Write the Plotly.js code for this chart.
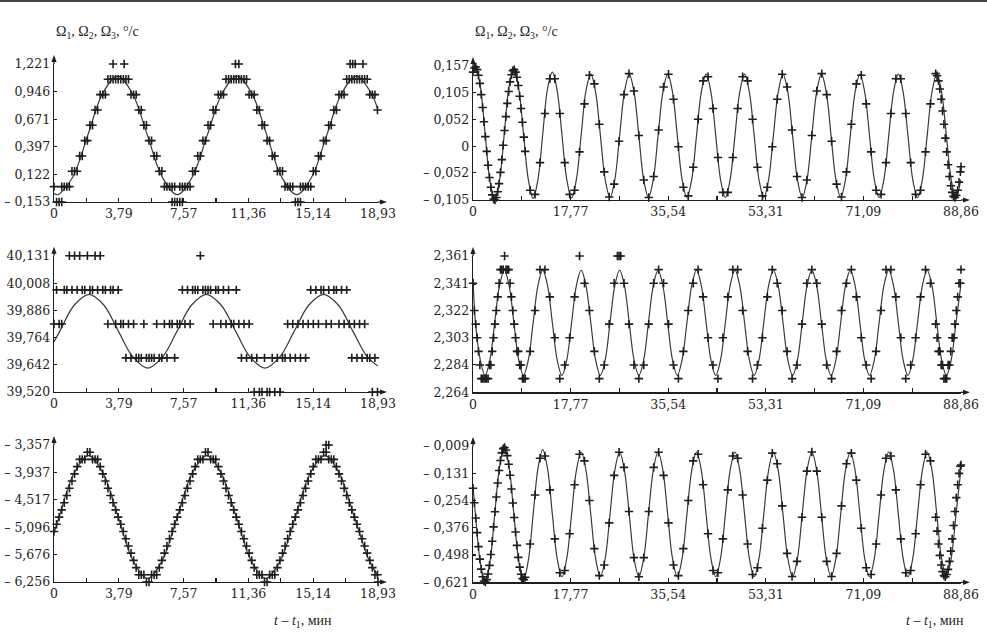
<!DOCTYPE html>
<html><head><meta charset="utf-8">
<script src="https://cdn.plot.ly/plotly-3.0.1.min.js"></script>
<style>html,body{margin:0;padding:0;background:#fff;}#chart{width:987px;height:638px;}</style>
</head><body><div id="chart"></div>
<script>
// ---------- left column: common sample times (min) ----------
const tLeft = [0,0.15,0.3,0.45,0.6,0.75,0.9,1.05,1.2,1.35,
1.5,1.65,1.8,1.95,2.1,2.25,2.4,2.55,2.7,2.85,
3,3.15,3.3,3.45,3.6,3.75,3.9,4.05,4.2,4.35,
4.5,4.65,4.8,4.95,5.1,5.25,5.4,5.55,5.7,5.85,
6,6.15,6.3,6.45,6.6,6.75,6.9,7.05,7.2,7.35,
7.5,7.65,7.8,7.95,8.1,8.25,8.4,8.55,8.7,8.85,
9,9.15,9.3,9.45,9.6,9.75,9.9,10.05,10.2,10.35,
10.5,10.65,10.8,10.95,11.1,11.25,11.4,11.55,11.7,11.85,
12,12.15,12.3,12.45,12.6,12.75,12.9,13.05,13.2,13.35,
13.5,13.65,13.8,13.95,14.1,14.25,14.4,14.55,14.7,14.85,
15,15.15,15.3,15.45,15.6,15.75,15.9,16.05,16.2,16.35,
16.5,16.65,16.8,16.95,17.1,17.25,17.4,17.55,17.7,17.85,
18,18.15,18.3,18.45,18.6,18.75,18.9];

// Omega1 (left, top) measured points
const om1L = [0,-0.153,-0.153,0,0,0,0,0.153,0.153,0.153,
0.305,0.305,0.458,0.458,0.611,0.611,0.763,0.763,0.916,0.916,
0.916,1.069,1.069,1.069,1.069,1.069,1.069,1.069,1.069,1.069,
0.916,0.916,0.916,0.763,0.763,0.611,0.611,0.458,0.458,0.305,
0.305,0.153,0.153,0,0,0,0,0,-0.153,0,
0,0,0,0,0.153,0.153,0.305,0.305,0.458,0.458,
0.611,0.611,0.763,0.763,0.916,0.916,0.916,1.069,1.069,1.069,
1.069,1.069,1.069,1.069,1.069,1.069,0.916,0.916,0.916,0.763,
0.763,0.611,0.611,0.458,0.458,0.305,0.305,0.153,0.153,0.153,
0,0,0,0,-0.153,-0.153,0,0,0,0,
0,0.153,0.153,0.305,0.305,0.458,0.458,0.611,0.611,0.763,
0.763,0.916,0.916,0.916,1.069,1.069,1.069,1.069,1.069,1.069,
1.069,1.069,1.069,0.916,0.916,0.916,0.763];
const om1LOutT = [0.45,3.45,4.1,6.9,7.05,7.35,7.5,10.6,10.8,14.4,17.3,17.45,17.6,18.05];
const om1LOutV = [-0.153,1.221,1.221,-0.153,-0.153,-0.153,-0.153,1.221,1.221,-0.153,1.221,1.221,1.221,1.221];
const fitTL_t = [0,0.22,1.09,1.97,2.84,3.71,4.58,5.46,6.33,7.2,8.07,8.95,9.82,10.69,11.56,12.44,13.31,14.18,15.05,15.93,16.8,17.67,18.54,18.93];
const fitTL_v = [-0.069,-0.08,0.093,0.51,0.927,1.1,0.927,0.51,0.093,-0.08,0.093,0.51,0.927,1.1,0.927,0.51,0.093,-0.08,0.093,0.51,0.927,1.1,0.927,0.76];

// Omega2 (left, middle)
const om2L = [39.825,39.978,39.825,39.825,39.978,39.978,40.131,39.978,40.131,39.978,
40.131,39.978,39.978,40.131,39.978,39.978,40.131,39.978,40.131,39.978,
39.978,39.825,39.978,39.978,39.825,39.978,39.825,39.825,39.673,39.825,
39.673,39.825,39.673,39.673,39.673,39.825,39.673,39.673,39.673,39.673,
39.825,39.673,39.673,39.825,39.673,39.825,39.825,39.673,39.825,39.825,
39.978,39.825,39.978,39.825,39.978,39.978,39.978,40.131,39.978,39.978,
39.978,39.978,39.825,39.978,39.978,39.825,39.978,39.825,39.978,39.825,
39.825,39.978,39.825,39.673,39.825,39.673,39.825,39.673,39.52,39.673,
39.52,39.52,39.673,39.52,39.52,39.673,39.52,39.673,39.52,39.673,
39.673,39.825,39.673,39.825,39.673,39.825,39.673,39.825,39.673,39.825,
39.978,39.825,39.978,39.825,39.978,39.978,39.825,39.978,39.825,39.978,
39.978,39.825,39.978,39.825,39.978,39.825,39.673,39.825,39.673,39.825,
39.673,39.825,39.673,39.673,39.52,39.673,39.52];
const fitML_t = [0,0.34,1.19,2.05,2.91,3.76,4.62,5.48,6.33,7.19,8.04,8.9,9.76,10.61,11.47,12.33,13.18,14.04,14.89,15.75,16.61,17.46,18.32,18.93];
const fitML_v = [39.745,39.793,39.91,39.958,39.91,39.793,39.676,39.627,39.676,39.793,39.91,39.958,39.91,39.793,39.676,39.627,39.676,39.793,39.91,39.958,39.91,39.793,39.676,39.636];

// Omega3 (left, bottom)
const om3L = [-5.188,-5.035,-4.883,-4.730,-4.578,-4.425,-4.272,-4.120,-3.967,-3.815,
-3.662,-3.662,-3.662,-3.510,-3.510,-3.662,-3.662,-3.662,-3.815,-3.967,
-4.120,-4.272,-4.425,-4.578,-4.730,-4.883,-5.035,-5.188,-5.341,-5.493,
-5.646,-5.798,-5.951,-6.103,-6.103,-6.103,-6.256,-6.256,-6.103,-6.103,
-6.103,-5.951,-5.798,-5.646,-5.493,-5.341,-5.188,-5.035,-4.883,-4.730,
-4.578,-4.425,-4.272,-4.120,-3.967,-3.815,-3.662,-3.662,-3.662,-3.510,
-3.510,-3.662,-3.662,-3.662,-3.815,-3.967,-4.120,-4.272,-4.425,-4.578,
-4.730,-4.883,-5.035,-5.188,-5.341,-5.493,-5.646,-5.798,-5.951,-6.103,
-6.103,-6.103,-6.256,-6.256,-6.103,-6.103,-6.103,-5.951,-5.798,-5.646,
-5.493,-5.341,-5.188,-5.035,-4.883,-4.730,-4.578,-4.425,-4.272,-4.120,
-3.967,-3.815,-3.662,-3.662,-3.662,-3.510,-3.510,-3.662,-3.662,-3.662,
-3.815,-3.967,-4.120,-4.272,-4.425,-4.578,-4.730,-4.883,-5.035,-5.188,
-5.341,-5.493,-5.646,-5.798,-5.951,-6.103,-6.103];
const om3LOutT = [15.9,16.05,18.93];
const om3LOutV = [-3.357,-3.357,-6.256];
const fitBL_t = [0,0.3,1.16,2.02,2.88,3.75,4.61,5.47,6.33,7.2,8.06,8.92,9.78,10.65,11.51,12.37,13.23,14.1,14.96,15.82,16.68,17.55,18.41,18.93];
const fitBL_v = [-5.225,-4.88,-3.961,-3.58,-3.961,-4.88,-5.799,-6.18,-5.799,-4.88,-3.961,-3.58,-3.961,-4.88,-5.799,-6.18,-5.799,-4.88,-3.961,-3.58,-3.961,-4.88,-5.799,-6.12];

// ---------- right column: common sample times (min) ----------
const tRight = [0,0.25,0.5,0.75,1,1.25,1.5,1.75,2,2.25,2.5,2.75,3,3.25,3.5,3.75,4,4.25,4.5,4.75,
5,5.25,5.5,5.75,6,6.25,6.5,6.75,7,7.25,7.5,7.75,8,8.25,8.5,8.75,9,9.25,9.5,
10.4,11.3,12.2,13.1,14,14.9,15.8,16.7,17.6,18.5,19.4,20.3,21.2,22.1,23,23.9,24.8,25.7,26.6,27.5,
28.4,29.3,30.2,31.1,32,32.9,33.8,34.7,35.6,36.5,37.4,38.3,39.2,40.1,41,41.9,42.8,43.7,44.6,45.5,
46.4,47.3,48.2,49.1,50,50.9,51.8,52.7,53.6,54.5,55.4,56.3,57.2,58.1,59,59.9,60.8,61.7,62.6,63.5,
64.4,65.3,66.2,67.1,68,68.9,69.8,70.7,71.6,72.5,73.4,74.3,75.2,76.1,77,77.9,78.8,79.7,80.6,81.5,
82.4,83.3,
84.25,84.5,84.75,85,85.25,85.5,85.75,86,86.25,86.5,86.75,87,87.25,87.5,87.75,88,88.25,88.5,88.75,88.86];

const om1R = [0.145,0.153,0.155,0.150,0.139,0.123,0.101,0.076,0.048,0.019,
-0.010,-0.037,-0.061,-0.080,-0.095,-0.103,-0.105,-0.100,-0.089,-0.073,
-0.051,-0.026,0.002,0.031,0.058,0.084,0.107,0.126,0.140,0.148,
0.150,0.145,0.135,0.119,0.098,0.074,0.047,0.018,-0.010,
-0.086,-0.094,-0.032,0.064,0.132,0.132,0.064,-0.032,-0.094,-0.086,
-0.011,0.083,0.139,0.122,0.043,-0.050,-0.099,-0.074,0.010,0.101,
0.142,0.108,0.021,-0.066,-0.100,-0.059,0.032,0.116,0.141,0.092,
-0.001,-0.080,-0.097,-0.041,0.053,0.128,0.136,0.074,-0.022,-0.090,
-0.090,-0.022,0.074,0.136,0.128,0.053,-0.041,-0.097,-0.080,-0.001,
0.092,0.141,0.116,0.032,-0.059,-0.100,-0.066,0.021,0.108,0.142,
0.101,0.010,-0.074,-0.099,-0.050,0.043,0.122,0.139,0.083,-0.011,
-0.086,-0.094,-0.032,0.064,0.132,0.132,0.064,-0.032,-0.094,-0.086,-0.011,0.083,
0.142,0.138,0.128,0.112,0.092,0.069,0.043,0.016,-0.011,-0.036,
-0.059,-0.077,-0.090,-0.098,-0.100,-0.096,-0.086,-0.070,-0.050,-0.040];

const om2R = [2.3416,2.3222,2.3125,2.3028,2.2931,2.2834,2.2737,2.2737,2.2737,2.2737,
2.2737,2.2737,2.2834,2.2834,2.2931,2.3028,2.3125,2.3222,2.3319,2.3416,
2.3513,2.3513,2.3513,2.361,2.3513,2.3513,2.3513,2.3416,2.3319,2.3222,
2.3125,2.3028,2.2931,2.2931,2.2834,2.2834,2.2737,2.2737,2.2737,
2.2931,2.3222,2.3513,2.3513,2.3319,2.3028,2.2737,2.2834,2.3028,2.3319,
2.361,2.3416,2.3222,2.2931,2.2737,2.2834,2.3125,2.3416,2.361,2.3416,
2.3125,2.2834,2.2737,2.2834,2.3125,2.3416,2.3513,2.3416,2.3125,2.2834,
2.2737,2.2931,2.3222,2.3416,2.3513,2.3319,2.3028,2.2834,2.2737,2.3028,
2.3319,2.3513,2.3513,2.3222,2.2931,2.2737,2.2834,2.3028,2.3319,2.3513,
2.3416,2.3222,2.2931,2.2737,2.2834,2.3125,2.3416,2.3513,2.3416,2.3125,
2.2834,2.2737,2.2931,2.3222,2.3416,2.3513,2.3319,2.3028,2.2834,2.2737,
2.2931,2.3222,2.3513,2.3513,2.3319,2.3028,2.2737,2.2834,2.3028,2.3319,2.3513,2.3416,
2.3125,2.3028,2.2931,2.2931,2.2834,2.2834,2.2737,2.2737,2.2737,2.2834,
2.2834,2.2931,2.3028,2.3028,2.3125,2.3222,2.3319,2.3416,2.3416,2.3513];
const om2ROutT = [26.3,26.9];
const om2ROutV = [2.361,2.361];

const om3R = [-0.199,-0.264,-0.332,-0.398,-0.461,-0.517,-0.562,-0.596,-0.615,-0.620,
-0.609,-0.584,-0.545,-0.496,-0.437,-0.372,-0.304,-0.238,-0.175,-0.119,
-0.074,-0.040,-0.021,-0.016,-0.027,-0.052,-0.091,-0.140,-0.202,-0.265,
-0.330,-0.395,-0.455,-0.509,-0.553,-0.585,-0.604,-0.609,-0.598,
-0.449,-0.229,-0.064,-0.054,-0.206,-0.426,-0.578,-0.568,-0.403,-0.183,
-0.046,-0.076,-0.254,-0.470,-0.591,-0.543,-0.354,-0.141,-0.037,-0.105,
-0.303,-0.510,-0.596,-0.510,-0.303,-0.105,-0.037,-0.141,-0.354,-0.543,
-0.591,-0.470,-0.254,-0.076,-0.046,-0.183,-0.403,-0.568,-0.578,-0.426,
-0.206,-0.054,-0.064,-0.229,-0.449,-0.586,-0.556,-0.378,-0.162,-0.041,
-0.089,-0.278,-0.491,-0.595,-0.527,-0.329,-0.122,-0.036,-0.122,-0.329,
-0.527,-0.595,-0.491,-0.278,-0.089,-0.041,-0.162,-0.378,-0.556,-0.586,
-0.449,-0.229,-0.064,-0.054,-0.206,-0.426,-0.578,-0.568,-0.403,-0.183,-0.046,-0.076,
-0.329,-0.391,-0.449,-0.500,-0.543,-0.573,-0.591,-0.596,-0.586,-0.563,
-0.527,-0.481,-0.426,-0.366,-0.303,-0.241,-0.183,-0.132,-0.100,-0.094];

// fitted curves, right column (common grid)
const tFitR = [0,0.45,1.325,2.2,3.075,3.95,4.825,5.7,6.575,
7.45,8.325,9.2,10.075,10.95,11.825,12.7,13.575,
14.45,15.325,16.2,17.075,17.95,18.825,19.7,20.575,
21.45,22.325,23.2,24.075,24.95,25.825,26.7,27.575,
28.45,29.325,30.2,31.075,31.95,32.825,33.7,34.575,
35.45,36.325,37.2,38.075,38.95,39.825,40.7,41.575,
42.45,43.325,44.2,45.075,45.95,46.825,47.7,48.575,
49.45,50.325,51.2,52.075,52.95,53.825,54.7,55.575,
56.45,57.325,58.2,59.075,59.95,60.825,61.7,62.575,
63.45,64.325,65.2,66.075,66.95,67.825,68.7,69.575,
70.45,71.325,72.2,73.075,73.95,74.825,75.7,76.575,
77.45,78.325,79.2,80.075,80.95,81.825,82.7,83.575,
84.45,85.325,86.2,87.075,87.95,88.825];
const fitTR_v = [0.145,0.155,0.117,0.025,-0.067,-0.105,-0.067,0.025,0.117,
0.150,0.113,0.024,-0.065,-0.102,-0.065,0.024,0.113,
0.145,0.109,0.022,-0.065,-0.101,-0.065,0.022,0.109,
0.141,0.106,0.021,-0.065,-0.100,-0.065,0.021,0.106,
0.141,0.106,0.021,-0.065,-0.100,-0.065,0.021,0.106,
0.141,0.106,0.021,-0.065,-0.100,-0.065,0.021,0.106,
0.141,0.106,0.021,-0.065,-0.100,-0.065,0.021,0.106,
0.141,0.106,0.021,-0.065,-0.100,-0.065,0.021,0.106,
0.141,0.106,0.021,-0.065,-0.100,-0.065,0.021,0.106,
0.141,0.106,0.021,-0.065,-0.100,-0.065,0.021,0.106,
0.141,0.106,0.021,-0.065,-0.100,-0.065,0.021,0.106,
0.141,0.106,0.021,-0.065,-0.100,-0.065,0.021,0.106,
0.141,0.106,0.021,-0.065,-0.100,-0.065];
const fitMR_v = [2.345,2.3135,2.287,2.276,2.287,2.3135,2.340,2.351,2.340,
2.3135,2.287,2.276,2.287,2.3135,2.340,2.351,2.340,
2.3135,2.287,2.276,2.287,2.3135,2.340,2.351,2.340,
2.3135,2.287,2.276,2.287,2.3135,2.340,2.351,2.340,
2.3135,2.287,2.276,2.287,2.3135,2.340,2.351,2.340,
2.3135,2.287,2.276,2.287,2.3135,2.340,2.351,2.340,
2.3135,2.287,2.276,2.287,2.3135,2.340,2.351,2.340,
2.3135,2.287,2.276,2.287,2.3135,2.340,2.351,2.340,
2.3135,2.287,2.276,2.287,2.3135,2.340,2.351,2.340,
2.3135,2.287,2.276,2.287,2.3135,2.340,2.351,2.340,
2.3135,2.287,2.276,2.287,2.3135,2.340,2.351,2.340,
2.3135,2.287,2.276,2.287,2.3135,2.340,2.351,2.340,
2.3135,2.287,2.276,2.287,2.3135,2.340];
const fitBR_v = [-0.19,-0.318,-0.532,-0.620,-0.532,-0.318,-0.104,-0.016,-0.104,
-0.317,-0.523,-0.609,-0.523,-0.317,-0.111,-0.025,-0.111,
-0.316,-0.514,-0.596,-0.514,-0.316,-0.118,-0.036,-0.118,
-0.316,-0.514,-0.596,-0.514,-0.316,-0.118,-0.036,-0.118,
-0.316,-0.514,-0.596,-0.514,-0.316,-0.118,-0.036,-0.118,
-0.316,-0.514,-0.596,-0.514,-0.316,-0.118,-0.036,-0.118,
-0.316,-0.514,-0.596,-0.514,-0.316,-0.118,-0.036,-0.118,
-0.316,-0.514,-0.596,-0.514,-0.316,-0.118,-0.036,-0.118,
-0.316,-0.514,-0.596,-0.514,-0.316,-0.118,-0.036,-0.118,
-0.316,-0.514,-0.596,-0.514,-0.316,-0.118,-0.036,-0.118,
-0.316,-0.514,-0.596,-0.514,-0.316,-0.118,-0.036,-0.118,
-0.316,-0.514,-0.596,-0.514,-0.316,-0.118,-0.036,-0.118,
-0.316,-0.514,-0.596,-0.514,-0.316,-0.118];

// ---------- ticks ----------
const xTicksL = [0,3.786,7.572,11.358,15.144,18.93];
const xTextL = ['0','3,79','7,57','11,36','15,14','18,93'];
const xMinorL = [1.893,5.679,9.465,13.251,17.037];
const xTicksR = [0,17.772,35.544,53.316,71.088,88.86];
const xTextR = ['0','17,77','35,54','53,31','71,09','88,86'];
const xMinorR = [8.886,26.658,44.43,62.202,79.974];
const yTicksTL = [-0.153,0.122,0.397,0.671,0.946,1.221];
const yTextTL = ['– 0,153','0,122','0,397','0,671','0,946','1,221'];
const yTicksML = [39.52,39.642,39.764,39.886,40.008,40.131];
const yTextML = ['39,520','39,642','39,764','39,886','40,008','40,131'];
const yTicksBL = [-6.256,-5.676,-5.096,-4.517,-3.937,-3.357];
const yTextBL = ['– 6,256','– 5,676','– 5,096','– 4,517','– 3,937','– 3,357'];
const yTicksTR = [-0.105,-0.052,0,0.052,0.105,0.157];
const yTextTR = ['– 0,105','– 0,052','0','0,052','0,105','0,157'];
const yTicksMR = [2.264,2.284,2.303,2.322,2.341,2.361];
const yTextMR = ['2,264','2,284','2,303','2,322','2,341','2,361'];
const yTicksBR = [-0.621,-0.498,-0.376,-0.254,-0.131,-0.009];
const yTextBR = ['– 0,621','– 0,498','– 0,376','– 0,254','– 0,131','– 0,009'];

const FONT = "'DejaVu Serif', 'Liberation Serif', serif";
const FONT2 = "'Liberation Serif', 'DejaVu Serif', serif";
const INK = '#1e1e1e';
const W = 987, H = 638;

const traces = [];
function panel(k, fitT, fitV, mT, mV, oT, oV) {
  const xa = k === 1 ? 'x' : 'x' + k, ya = k === 1 ? 'y' : 'y' + k;
  traces.push({x: fitT, y: fitV, xaxis: xa, yaxis: ya, mode: 'lines', cliponaxis: false,
    line: {color: '#3a3a3a', width: 1.2, shape: 'spline', smoothing: 1}, hoverinfo: 'skip', showlegend: false});
  const mk = {symbol: 'cross-thin', size: 6, color: INK, line: {color: INK, width: 1.6}};
  traces.push({x: mT, y: mV, xaxis: xa, yaxis: ya, mode: 'markers', cliponaxis: false, marker: mk, showlegend: false});
  if (oT) traces.push({x: oT, y: oV, xaxis: xa, yaxis: ya, mode: 'markers', cliponaxis: false, marker: mk, showlegend: false});
}
panel(1, fitTL_t, fitTL_v, tLeft, om1L, om1LOutT, om1LOutV);
panel(2, tFitR, fitTR_v, tRight, om1R);
panel(3, fitML_t, fitML_v, tLeft, om2L);
panel(4, tFitR, fitMR_v, tRight, om2R, om2ROutT, om2ROutV);
panel(5, fitBL_t, fitBL_v, tLeft, om3L, om3LOutT, om3LOutV);
panel(6, tFitR, fitBR_v, tRight, om3R);

const font = {family: FONT, size: 12.5, color: INK};
const font2 = {family: FONT2, size: 14, color: INK};
function xAxis(dom, anchor, vals, text, minor, rng) {
  return {domain: dom, anchor: anchor, range: rng, tickvals: vals, ticktext: text, tickmode: 'array',
    minor: {tickmode: 'array', tickvals: minor, ticks: 'inside', ticklen: 4, tickwidth: 1.2, tickcolor: INK, showgrid: false},
    showgrid: false, zeroline: false, showline: true, linecolor: INK, linewidth: 1.3,
    ticks: 'inside', ticklen: 4, tickwidth: 1.2, tickcolor: INK, tickfont: font, fixedrange: true};
}
function yAxis(dom, anchor, vals, text) {
  return {domain: dom, anchor: anchor, range: [vals[0], vals[vals.length - 1]], tickvals: vals, ticktext: text, tickmode: 'array',
    showgrid: false, zeroline: false, showline: true, linecolor: INK, linewidth: 1.3,
    ticks: 'inside', ticklen: 3, tickwidth: 1.2, tickcolor: INK, tickfont: font, fixedrange: true};
}
// plot-area pixel boxes [left, right, top, bottom]
const boxes = {
  1: [54, 378, 64, 202], 2: [473, 961, 66, 200],
  3: [54, 378, 255.7, 392], 4: [473, 961, 256, 392.3],
  5: [54, 378, 445, 582], 6: [473, 961, 446, 582.3]
};
const dx = k => [boxes[k][0] / W, boxes[k][1] / W];
const dy = k => [1 - boxes[k][3] / H, 1 - boxes[k][2] / H];

const layout = {
  width: W, height: H, margin: {l: 0, r: 0, t: 0, b: 0},
  paper_bgcolor: '#fff', plot_bgcolor: 'rgba(0,0,0,0)', showlegend: false, font: font,
  xaxis: xAxis(dx(1), 'y', xTicksL, xTextL, xMinorL, [0, 18.93]),
  yaxis: yAxis(dy(1), 'x', yTicksTL, yTextTL),
  xaxis2: xAxis(dx(2), 'y2', xTicksR, xTextR, xMinorR, [0, 88.86]),
  yaxis2: yAxis(dy(2), 'x2', yTicksTR, yTextTR),
  xaxis3: xAxis(dx(3), 'y3', xTicksL, xTextL, xMinorL, [0, 18.93]),
  yaxis3: yAxis(dy(3), 'x3', yTicksML, yTextML),
  xaxis4: xAxis(dx(4), 'y4', xTicksR, xTextR, xMinorR, [0, 88.86]),
  yaxis4: yAxis(dy(4), 'x4', yTicksMR, yTextMR),
  xaxis5: xAxis(dx(5), 'y5', xTicksL, xTextL, xMinorL, [0, 18.93]),
  yaxis5: yAxis(dy(5), 'x5', yTicksBL, yTextBL),
  xaxis6: xAxis(dx(6), 'y6', xTicksR, xTextR, xMinorR, [0, 88.86]),
  yaxis6: yAxis(dy(6), 'x6', yTicksBR, yTextBR),
  shapes: [{type: 'line', xref: 'paper', yref: 'paper', x0: 0, x1: 1, y0: 1 - 1 / H, y1: 1 - 1 / H, line: {color: '#444', width: 2}}],
  annotations: []
};
// axis arrowheads drawn as small filled triangles (paper coordinates)
const px = v => v / W, py = v => 1 - v / H;
Object.keys(boxes).forEach(k => {
  const [l, r, t, b] = boxes[k];
  layout.shapes.push({type: 'line', xref: 'paper', yref: 'paper', x0: px(l), x1: px(l), y0: py(t), y1: py(t - 3), line: {color: INK, width: 1.3}});
  layout.shapes.push({type: 'path', xref: 'paper', yref: 'paper', line: {width: 0}, fillcolor: INK,
    path: `M ${px(l)} ${py(t - 9)} L ${px(l - 2.6)} ${py(t - 2)} L ${px(l + 2.6)} ${py(t - 2)} Z`});
  layout.shapes.push({type: 'line', xref: 'paper', yref: 'paper', x0: px(r), x1: px(r + 3), y0: py(b), y1: py(b), line: {color: INK, width: 1.3}});
  layout.shapes.push({type: 'path', xref: 'paper', yref: 'paper', line: {width: 0}, fillcolor: INK,
    path: `M ${px(r + 9)} ${py(b)} L ${px(r + 2)} ${py(b - 2.6)} L ${px(r + 2)} ${py(b + 2.6)} Z`});
});
const titleTxt = 'Ω<sub>1</sub>, Ω<sub>2</sub>, Ω<sub>3</sub>, °/c';
layout.annotations.push({xref: 'paper', yref: 'paper', x: 54 / W, y: 1 - 32 / H, xanchor: 'left', yanchor: 'middle', text: titleTxt, showarrow: false, font: font2});
layout.annotations.push({xref: 'paper', yref: 'paper', x: 473 / W, y: 1 - 32 / H, xanchor: 'left', yanchor: 'middle', text: titleTxt, showarrow: false, font: font2});
const tLbl = '<i>t</i> – <i>t</i><sub>1</sub>, мин';
layout.annotations.push({xref: 'paper', yref: 'paper', x: 334 / W, y: 1 - 621 / H, xanchor: 'right', yanchor: 'middle', text: tLbl, showarrow: false, font: {family: FONT2, size: 14, color: INK}});
layout.annotations.push({xref: 'paper', yref: 'paper', x: 966 / W, y: 1 - 621 / H, xanchor: 'right', yanchor: 'middle', text: tLbl, showarrow: false, font: {family: FONT2, size: 14, color: INK}});

Plotly.newPlot('chart', traces, layout, {staticPlot: true, displayModeBar: false});
</script>
</body></html>
